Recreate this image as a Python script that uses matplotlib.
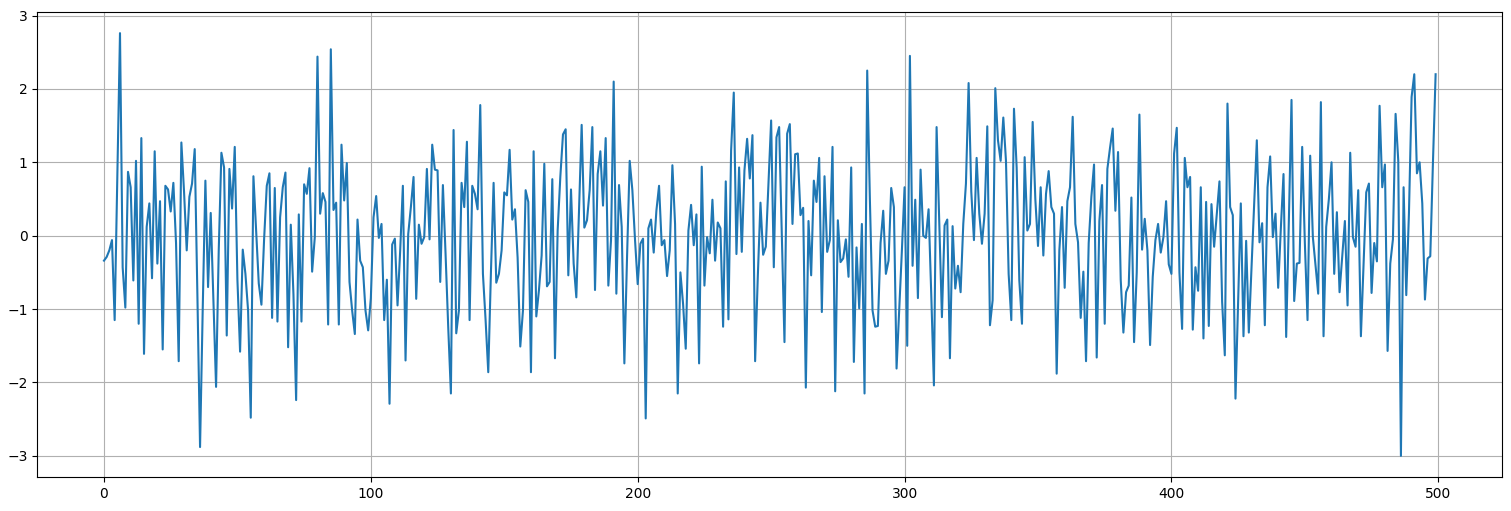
import numpy as np
import matplotlib
matplotlib.use("Agg")
import matplotlib.pyplot as plt

values_000_099 = [
    -0.34, -0.29, -0.2, -0.06, -1.15, 0.8, 2.76, -0.43, -0.98, 0.87,
    0.66, -0.61, 1.02, -1.2, 1.33, -1.61, 0.12, 0.44, -0.58, 1.15,
    -0.38, 0.47, -1.55, 0.68, 0.63, 0.33, 0.72, -0.1, -1.71, 1.27,
    0.6, -0.2, 0.53, 0.71, 1.18, -0.8, -2.88, -1.0, 0.75, -0.7,
    0.31, -0.9, -2.06, -0.2, 1.13, 0.93, -1.36, 0.91, 0.37, 1.21,
    -0.6, -1.58, -0.19, -0.52, -1.02, -2.48, 0.81, 0.07, -0.65, -0.94,
    -0.05, 0.68, 0.85, -1.12, 0.65, -1.17, 0.25, 0.66, 0.86, -1.52,
    0.15, -0.8, -2.24, 0.29, -1.17, 0.7, 0.57, 0.92, -0.49, -0.02,
    2.44, 0.3, 0.58, 0.46, -1.21, 2.54, 0.35, 0.45, -1.21, 1.24,
    0.48, 0.99, -0.63, -1.02, -1.34, 0.22, -0.34, -0.43, -1.02, -1.29,
]
values_100_199 = [
    -0.85, 0.25, 0.54, -0.03, 0.16, -1.15, -0.6, -2.29, -0.12, -0.04,
    -0.95, -0.2, 0.68, -1.7, 0.02, 0.39, 0.8, -0.86, 0.15, -0.11,
    -0.02, 0.91, -0.05, 1.24, 0.9, 0.89, -0.63, 0.69, -0.25, -1.25,
    -2.15, 1.44, -1.33, -1.02, 0.72, 0.39, 1.28, -1.15, 0.68, 0.57,
    0.36, 1.78, -0.52, -1.15, -1.86, -0.5, 0.72, -0.64, -0.52, -0.2,
    0.59, 0.55, 1.17, 0.22, 0.36, -0.3, -1.51, -1.02, 0.62, 0.46,
    -1.86, 1.15, -1.1, -0.74, -0.27, 0.98, -0.69, -0.63, 0.77, -1.67,
    0.07, 0.8, 1.38, 1.45, -0.54, 0.63, -0.38, -0.84, 0.34, 1.51,
    0.11, 0.21, 0.62, 1.48, -0.74, 0.84, 1.15, 0.41, 1.33, -0.68,
    -0.06, 2.1, -0.79, 0.69, 0.12, -1.74, -0.3, 1.02, 0.62, -0.06,
]
values_200_299 = [
    -0.66, -0.11, -0.04, -2.49, 0.1, 0.22, -0.23, 0.34, 0.68, -0.13,
    -0.06, -0.55, -0.2, 0.96, 0.16, -2.15, -0.5, -0.93, -1.54, 0.07,
    0.42, -0.13, 0.29, -1.74, 0.94, -0.68, -0.02, -0.24, 0.49, -0.34,
    0.18, 0.1, -1.24, 0.74, -1.14, 1.16, 1.95, -0.25, 0.93, -0.22,
    0.89, 1.32, 0.78, 1.37, -1.71, -0.56, 0.45, -0.26, -0.15, 0.7,
    1.57, -0.43, 1.34, 1.48, 0.0, -1.45, 1.39, 1.52, 0.16, 1.11,
    1.12, 0.28, 0.38, -2.07, 0.2, -0.54, 0.75, 0.46, 1.06, -1.04,
    0.81, -0.22, -0.06, 1.21, -2.12, 0.21, -0.36, -0.31, -0.05, -0.56,
    0.93, -1.72, -0.16, -0.99, 0.16, -2.15, 2.25, 0.5, -1.02, -1.24,
    -1.23, -0.1, 0.34, -0.52, -0.34, 0.65, 0.39, -1.81, -1.0, -0.2,
]
values_300_399 = [
    0.66, -1.5, 2.45, -0.41, 0.49, -0.85, 0.9, 0.0, -0.03, 0.36,
    -0.8, -2.04, 1.48, 0.2, -1.11, 0.14, 0.22, -1.67, 0.13, -0.72,
    -0.41, -0.77, 0.16, 0.71, 2.08, 0.6, -0.06, 1.06, 0.3, -0.11,
    0.3, 1.49, -1.22, -0.88, 2.01, 1.3, 1.02, 1.61, 1.02, -0.52,
    -1.15, 1.73, 0.93, -0.61, -1.2, 1.07, 0.07, 0.16, 1.55, 0.5,
    -0.14, 0.66, -0.27, 0.57, 0.88, 0.39, 0.3, -1.88, -0.2, 0.39,
    -0.71, 0.47, 0.66, 1.62, 0.16, -0.09, -1.12, -0.49, -1.71, -0.1,
    0.53, 0.97, -1.66, 0.2, 0.69, -1.2, 0.91, 1.2, 1.46, 0.34,
    1.14, -0.6, -1.32, -0.77, -0.68, 0.52, -1.45, -0.5, 1.65, -0.19,
    0.23, -0.2, -1.49, -0.56, -0.06, 0.16, -0.23, -0.02, 0.47, -0.39,
]
values_400_499 = [
    -0.52, 1.12, 1.47, -0.5, -1.27, 1.06, 0.66, 0.8, -1.28, -0.43,
    -0.75, 0.66, -1.4, 0.46, -1.23, 0.43, -0.15, 0.3, 0.74, -0.9,
    -1.63, 1.8, 0.39, 0.28, -2.22, -0.9, 0.44, -1.37, -0.07, -1.32,
    -0.45, 0.45, 1.3, -0.09, 0.17, -1.22, 0.66, 1.08, -0.02, 0.3,
    -0.71, 0.1, 0.84, -1.38, 0.2, 1.85, -0.89, -0.38, -0.37, 1.21,
    -0.1, -1.15, 1.09, -0.02, -0.4, -0.79, 1.82, -1.37, 0.12, 0.5,
    1.0, -0.52, 0.32, -0.77, -0.29, 0.2, -0.95, 1.13, -0.02, -0.15,
    0.62, -1.37, -0.4, 0.59, 0.71, -0.78, -0.1, -0.35, 1.77, 0.66,
    0.97, -1.57, -0.38, -0.05, 1.66, 1.02, -3.0, 0.66, -0.81, 0.3,
    1.89, 2.2, 0.85, 1.0, 0.44, -0.87, -0.31, -0.28, 1.0, 2.2,
]

values = values_000_099 + values_100_199 + values_200_299 + values_300_399 + values_400_499

fig = plt.figure(figsize=(15.11, 5.11), dpi=100)
left_px, right_px, top_px, bottom_px = 37.4, 1502.2, 12.0, 477.0
ax = fig.add_axes([left_px / 1511, 1 - bottom_px / 511,
                   (right_px - left_px) / 1511, (bottom_px - top_px) / 511])
ax.plot(np.arange(len(values)), values)
ax.grid(True)
fig.savefig("out.png", dpi=100)
